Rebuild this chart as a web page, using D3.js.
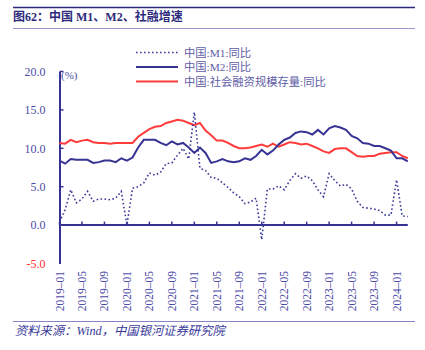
<!DOCTYPE html>
<html>
<head>
<meta charset="utf-8">
<script src="https://cdn.jsdelivr.net/npm/d3@7"></script>
<style>
  body { margin: 0; background: #fff; }
  svg { font-family: 'Liberation Serif', 'Noto Sans CJK SC', serif; }
</style>
</head>
<body>
<svg id="viz"></svg>
<script>
// DATA (2019-01 .. 2024-03, monthly)
const months = [];
for (let y = 2019; y <= 2024; y++) {
  for (let m = 1; m <= 12; m++) {
    if (y === 2024 && m > 3) break;
    months.push(y + '-' + String(m).padStart(2, '0'));
  }
}

const m1 = [
  0.4, 2.0, 4.6, 2.9, 3.4, 4.4, 3.1, 3.4, 3.4, 3.3, 3.5, 4.4,
  0.0, 4.8, 5.0, 5.5, 6.8, 6.5, 6.9, 8.0, 8.1, 9.1, 10.0, 8.6,
  14.7, 7.4, 7.1, 6.2, 6.1, 5.5, 4.9, 4.2, 3.7, 2.8, 3.0, 3.5,
  -1.9, 4.7, 4.7, 5.1, 4.6, 5.8, 6.7, 6.1, 6.4, 5.8, 4.6, 3.7,
  6.7, 5.8, 5.1, 5.3, 4.7, 3.1, 2.3, 2.2, 2.1, 1.9, 1.3, 1.3,
  5.9, 1.2, 1.1
];

const m2 = [
  8.4, 8.0, 8.6, 8.5, 8.5, 8.5, 8.1, 8.2, 8.4, 8.4, 8.2, 8.7,
  8.4, 8.8, 10.1, 11.1, 11.1, 11.1, 10.7, 10.4, 10.9, 10.5, 10.7, 10.1,
  9.4, 10.1, 9.4, 8.1, 8.3, 8.6, 8.3, 8.2, 8.3, 8.7, 8.5, 9.0,
  9.8, 9.2, 9.7, 10.5, 11.1, 11.4, 12.0, 12.2, 12.1, 11.8, 12.4, 11.8,
  12.6, 12.9, 12.7, 12.4, 11.6, 11.3, 10.7, 10.6, 10.3, 10.3, 10.0, 9.7,
  8.7, 8.7, 8.3
];

const tsf = [
  10.7, 10.6, 11.1, 10.8, 11.0, 11.1, 10.8, 10.7, 10.7, 10.6, 10.7, 10.7,
  10.7, 10.7, 11.5, 12.0, 12.5, 12.8, 12.9, 13.3, 13.5, 13.7, 13.6, 13.3,
  13.0, 13.3, 12.3, 11.7, 11.0, 11.0, 10.7, 10.3, 10.0, 10.0, 10.1, 10.3,
  10.5, 10.2, 10.6, 10.2, 10.5, 10.8, 10.7, 10.5, 10.6, 10.3, 10.0, 9.6,
  9.4, 9.9, 10.0, 10.0, 9.5, 9.0, 8.9, 9.0, 9.0, 9.3, 9.4, 9.5,
  9.5, 9.0, 8.7
];

const yTicks = [-5, 0, 5, 10, 15, 20];
const xTickLabels = months.filter((d, i) => i % 4 === 0);

const seriesNames = ['中国:M1:同比', '中国:M2:同比', '中国:社会融资规模存量:同比'];
const seriesColors = ['#3a3a9a', '#363393', '#ff3b3b'];

const W = 425, H = 350;
const svg = d3.select('#viz').attr('width', W).attr('height', H);

// HEADER / FOOTER

svg.append('line')
  .attr('x1', 13).attr('x2', 415).attr('y1', 7.5).attr('y2', 7.5)
  .style('stroke', '#2d2a7c').style('stroke-width', 1.6);
svg.append('text')
  .attr('x', 13).attr('y', 21)
  .style('font-size', '12px').style('font-weight', 'bold')
  .style('fill', '#2d2a7c')
  .text('图62：中国 M1、M2、社融增速');
svg.append('line')
  .attr('x1', 13).attr('x2', 415).attr('y1', 28.5).attr('y2', 28.5)
  .style('stroke', '#9a97cc').style('stroke-width', 1);

svg.append('line')
  .attr('x1', 13).attr('x2', 415).attr('y1', 321.5).attr('y2', 321.5)
  .style('stroke', '#8884c4').style('stroke-width', 1);
svg.append('text')
  .attr('x', 15).attr('y', 335)
  .style('font-size', '12.3px').style('font-style', 'italic')
  .style('fill', '#3a3a9a')
  .text('资料来源：Wind，中国银河证券研究院');

// SCALES

const x = d3.scaleLinear().domain([0, months.length - 1]).range([59.5, 407.8]);
const y = d3.scaleLinear().domain([-5, 20]).range([263.5, 71.5]);

const g = svg.append('g');

// Y AXIS
g.append('g')
  .attr('transform', 'translate(59.5,0)')
  .call(d3.axisLeft(y).tickValues(yTicks).tickSize(0).tickPadding(14)
    .tickFormat(d3.format('.1f')))
  .call((a) => {
    a.select('.domain').style('stroke', '#363393').style('stroke-width', 2);
    a.selectAll('text')
      .style('font-size', '12px')
      .style('font-family', 'Liberation Serif')
      .style('fill', (d) => (d < 0 ? '#ff2d2d' : '#4b4aa6'))
      .text((d) => (d < 0 ? '-5.0' : d3.format('.1f')(d)));
  });
g.append('g')
  .selectAll('line')
  .data(yTicks.filter((d) => d !== 0 && d !== -5))
  .enter()
  .append('line')
  .attr('x1', 59.5).attr('x2', 63.5)
  .attr('y1', (d) => y(d)).attr('y2', (d) => y(d))
  .style('stroke', '#363393').style('stroke-width', 1.5);

g.append('text')
  .attr('x', 61).attr('y', 79)
  .style('font-size', '11px').style('fill', '#4b4aa6')
  .text('(%)');

// X AXIS at zero
g.append('line')
  .attr('x1', x(0)).attr('x2', x(months.length - 1))
  .attr('y1', y(0)).attr('y2', y(0))
  .style('stroke', '#363393').style('stroke-width', 2);
g.append('g')
  .selectAll('line')
  .data(xTickLabels)
  .enter()
  .append('line')
  .attr('x1', (d) => x(months.indexOf(d))).attr('x2', (d) => x(months.indexOf(d)))
  .attr('y1', y(0)).attr('y2', y(0) - 3.5)
  .style('stroke', '#363393').style('stroke-width', 1.5);
g.append('g')
  .selectAll('text')
  .data(xTickLabels)
  .enter()
  .append('text')
  .attr('transform', (d) => 'translate(' + (x(months.indexOf(d)) + 4) + ',271) rotate(-90)')
  .attr('text-anchor', 'end')
  .style('font-size', '11.5px')
  .style('fill', '#4b4aa6')
  .text((d) => d.replace('-', '–'));

// LINES
const line = d3.line().x((d, i) => x(i)).y((d) => y(d));

g.append('path').datum(tsf).attr('d', line)
  .style('fill', 'none').style('stroke', seriesColors[2]).style('stroke-width', 2);
g.append('path').datum(m2).attr('d', line)
  .style('fill', 'none').style('stroke', seriesColors[1]).style('stroke-width', 2);
g.append('path').datum(m1).attr('d', line)
  .style('fill', 'none').style('stroke', seriesColors[0]).style('stroke-width', 1.6)
  .style('stroke-dasharray', '1.6,2.4');

// LEGEND
const legend = svg.append('g')
  .selectAll('g')
  .data(seriesNames)
  .enter()
  .append('g')
  .attr('transform', (d, i) => 'translate(0,' + (52.5 + i * 14.5) + ')');
legend.append('line')
  .attr('x1', 136).attr('x2', 178).attr('y1', 0).attr('y2', 0)
  .style('stroke', (d, i) => seriesColors[i])
  .style('stroke-width', (d, i) => (i === 0 ? 1.6 : 2))
  .style('stroke-dasharray', (d, i) => (i === 0 ? '1.6,2.4' : null));
legend.append('text')
  .attr('x', 184).attr('y', 4.3)
  .style('font-size', '11.3px')
  .style('fill', '#5d5ca6')
  .text((d) => d);
</script>
</body>
</html>
